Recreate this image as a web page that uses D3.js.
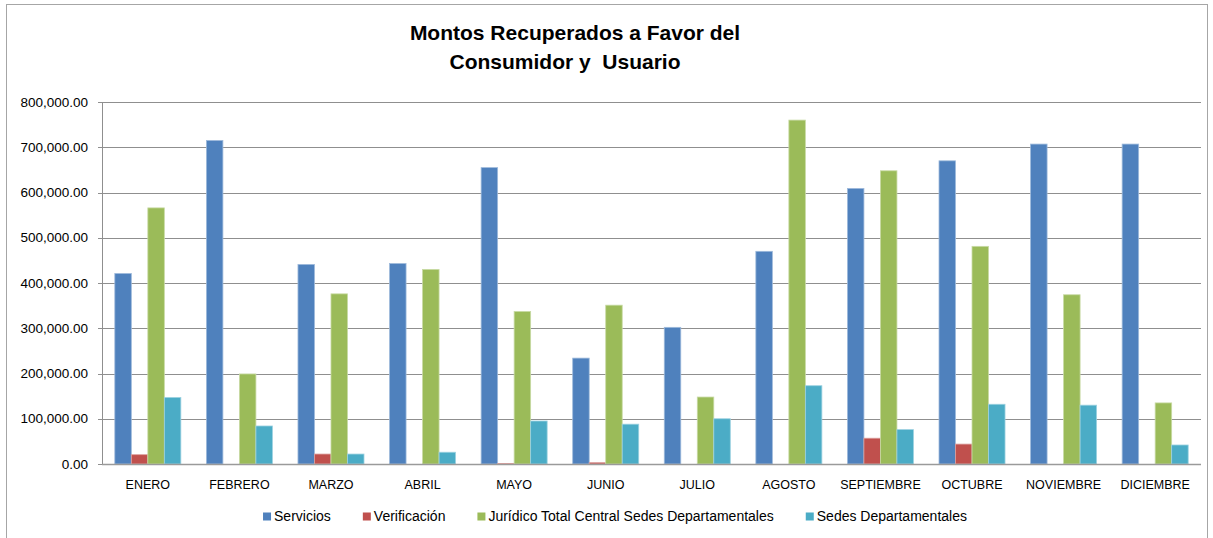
<!DOCTYPE html>
<html>
<head>
<meta charset="utf-8">
<script src="https://cdn.jsdelivr.net/npm/d3@7"></script>
<style>
  body { margin: 0; background: #fff; }
  text { font-family: "Liberation Sans", Arial, sans-serif; fill: #000; }
</style>
</head>
<body>
<svg width="1213" height="538"></svg>
<script>
const meses = ["ENERO", "FEBRERO", "MARZO", "ABRIL", "MAYO", "JUNIO", "JULIO", "AGOSTO", "SEPTIEMBRE", "OCTUBRE", "NOVIEMBRE", "DICIEMBRE"];
const series = ["Servicios", "Verificación", "Jurídico Total Central Sedes Departamentales", "Sedes Departamentales"];
const servicios    = [421000, 715000, 441000, 443000, 655000, 234000, 302000, 470000, 609000, 670000, 707000, 707000];
const verificacion = [20600, 0, 22000, 0, 1000, 3000, 0, 0, 57000, 44000, 0, 0];
const juridico     = [566000, 199000, 376000, 430000, 337000, 351000, 148000, 760000, 648000, 481000, 374000, 135000];
const sedes        = [147000, 84000, 22000, 26000, 95000, 88000, 100000, 173000, 76000, 132000, 130000, 42000];
const yTicks = [0, 100000, 200000, 300000, 400000, 500000, 600000, 700000, 800000];
const colores = ["#4F81BD", "#C0504D", "#9BBB59", "#4BACC6"];

const valores = [servicios, verificacion, juridico, sedes];
const data = meses.map(function(m, i) {
  return { mes: m, vals: series.map(function(s, j) { return { serie: s, v: valores[j][i] }; }) };
});

const svg = d3.select("svg");
const margin = { top: 102, right: 12, bottom: 74, left: 102 };
const width = 1213 - margin.left - margin.right;
const height = 538 - margin.top - margin.bottom;

// borde del grafico
svg.append("rect")
  .attr("x", 6.5).attr("y", 4.5)
  .attr("width", 1201).attr("height", 545)
  .attr("fill", "#fff")
  .attr("stroke", "#a6a6a6");

const g = svg.append("g")
  .attr("transform", "translate(" + margin.left + "," + margin.top + ")");

const x0 = d3.scaleBand().domain(meses).range([0, width]).paddingInner(0.279).paddingOuter(0.14);
const x1 = d3.scaleBand().domain(series).range([0, x0.bandwidth()]);
const y = d3.scaleLinear().domain([0, 800000]).range([height, 0]);
const color = d3.scaleOrdinal().domain(series).range(colores);

// lineas de la grilla
g.selectAll(".grid")
  .data(yTicks)
  .join("line")
  .attr("class", "grid")
  .attr("x1", -4).attr("x2", width)
  .attr("y1", function(d) { return Math.round(y(d)) + 0.5; })
  .attr("y2", function(d) { return Math.round(y(d)) + 0.5; })
  .attr("stroke", "#8f8f8f");

g.append("line")
  .attr("x1", 0.5).attr("x2", 0.5)
  .attr("y1", 0).attr("y2", height)
  .attr("stroke", "#8f8f8f");

// eje y
g.selectAll(".ylab")
  .data(yTicks)
  .join("text")
  .attr("class", "ylab")
  .attr("x", -14)
  .attr("y", function(d) { return y(d); })
  .attr("dy", "0.35em")
  .attr("text-anchor", "end")
  .style("font-size", "13.5px")
  .text(function(d) { return d3.format(",.2f")(d); });

// barras
const grupos = g.selectAll(".mes")
  .data(data)
  .join("g")
  .attr("class", "mes")
  .attr("transform", function(d) { return "translate(" + x0(d.mes) + ",0)"; });

grupos.selectAll("rect")
  .data(function(d) { return d.vals.filter(function(e) { return e.v > 0; }); })
  .join("rect")
  .attr("x", function(d) { return x1(d.serie); })
  .attr("y", function(d) { return y(d.v); })
  .attr("width", x1.bandwidth())
  .attr("height", function(d) { return height - y(d.v); })
  .attr("fill", function(d) { return color(d.serie); })
  .attr("stroke", function(d) { return d3.interpolateRgb(color(d.serie), "#fff")(0.45); })
  .attr("stroke-width", 0.8);

// eje x
g.append("line")
  .attr("x1", 0).attr("x2", width)
  .attr("y1", height + 0.5).attr("y2", height + 0.5)
  .attr("stroke", "#9a9a9a")
  .attr("stroke-width", 1.5);

g.selectAll(".xlab")
  .data(meses)
  .join("text")
  .attr("class", "xlab")
  .attr("x", function(d) { return x0(d) + x0.bandwidth() / 2; })
  .attr("y", height + 25)
  .attr("text-anchor", "middle")
  .style("font-size", "12.5px")
  .text(function(d) { return d; });

// titulo
svg.append("text")
  .attr("x", 575).attr("y", 40)
  .attr("text-anchor", "middle")
  .style("font-size", "21px").style("font-weight", "bold")
  .text("Montos Recuperados a Favor del");
svg.append("text")
  .attr("x", 565).attr("y", 69)
  .attr("text-anchor", "middle")
  .style("font-size", "21px").style("font-weight", "bold")
  .style("white-space", "pre")
  .text("Consumidor y  Usuario");

// leyenda
const leyenda = svg.append("g");
let lx = 0;
series.forEach(function(s) {
  const item = leyenda.append("g").attr("transform", "translate(" + lx + ",0)");
  item.append("rect").attr("x", 0).attr("y", -8.5).attr("width", 8).attr("height", 8).attr("fill", color(s));
  const t = item.append("text").attr("x", 11).attr("y", 0).style("font-size", "14px").text(s);
  lx += 11 + t.node().getComputedTextLength() + 32;
});
lx -= 32;
leyenda.attr("transform", "translate(" + (615 - lx / 2) + ",521)");
</script>
</body>
</html>
